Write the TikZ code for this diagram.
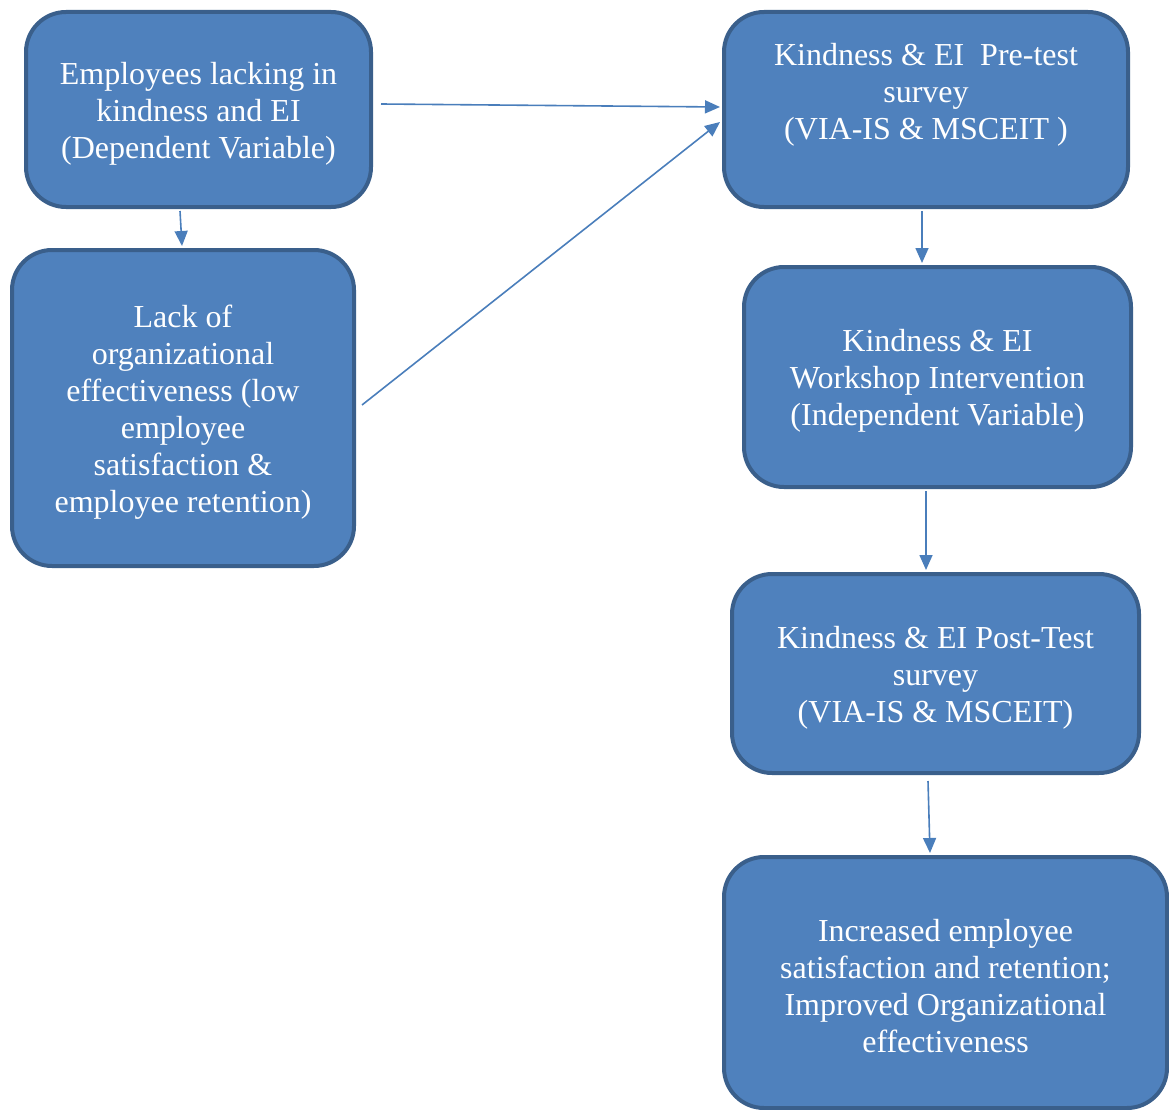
\documentclass[tikz,border=0pt]{standalone}
\usepackage{fontspec}
\setmainfont{Liberation Serif}
\usetikzlibrary{arrows.meta,calc}
\definecolor{boxfill}{HTML}{4F81BD}
\definecolor{boxline}{HTML}{3A5F8B}
\definecolor{arrowc}{HTML}{4A7EBB}
\newcommand\topstrut{\rule{0pt}{30pt}}
\begin{document}
\begin{tikzpicture}[x=1pt,y=-1pt,
  flowbox/.style={draw=boxline, line width=4pt, fill=boxfill, rounded corners=40pt,
    text=white, align=center, font=\fontsize{32}{37}\selectfont, inner sep=0pt},
  conn/.style={draw=arrowc, line width=1.6pt, -{Triangle[length=15pt,width=13pt]}}]
\useasboundingbox (0,0) rectangle (1169,1110);
\node[flowbox, minimum width=345pt, minimum height=195pt] (A) at (198.5,109.5)
  {\topstrut Employees lacking in\\kindness and EI\\(Dependent Variable)};
\node[flowbox, minimum width=342pt, minimum height=316pt] (B) at (183,408)
  {\topstrut Lack of\\organizational\\effectiveness (low\\employee\\satisfaction \&\\employee retention)};
\node[flowbox, minimum width=404pt, minimum height=195pt] (C) at (926,109.5)
  {Kindness \& EI\ \ Pre-test\\survey\\(VIA-IS \& MSCEIT )\\\mbox{}};
\node[flowbox, minimum width=387pt, minimum height=220pt] (D) at (937.5,377)
  {\topstrut Kindness \& EI\\Workshop Intervention\\(Independent Variable)};
\node[flowbox, minimum width=407pt, minimum height=199pt] (E) at (935.5,673.5)
  {\topstrut Kindness \& EI Post-Test\\survey\\(VIA-IS \& MSCEIT)};
\node[flowbox, minimum width=443pt, minimum height=251pt] (F) at (945.5,982.5)
  {\topstrut Increased employee\\satisfaction and retention;\\Improved Organizational\\effectiveness};
\draw[conn] ($(A.east)+(8,-5.5)$) -- ($(C.west)+(-2,-2.5)$);
\draw[conn] ($(B.east)+(6,-3)$) -- ($(C.west)+(-2,12.5)$);
\draw[conn] ($(A.south)+(-18.5,2)$) -- ($(B.north)+(-1,-2)$);
\draw[conn] ($(C.south)+(-4,2)$) -- ($(D.north)+(-15.5,-2)$);
\draw[conn] ($(D.south)+(-11.5,2)$) -- ($(E.north)+(-9.5,-2)$);
\draw[conn] ($(E.south)+(-7.5,6)$) -- ($(F.north)+(-15.5,-2)$);
\end{tikzpicture}
\end{document}
